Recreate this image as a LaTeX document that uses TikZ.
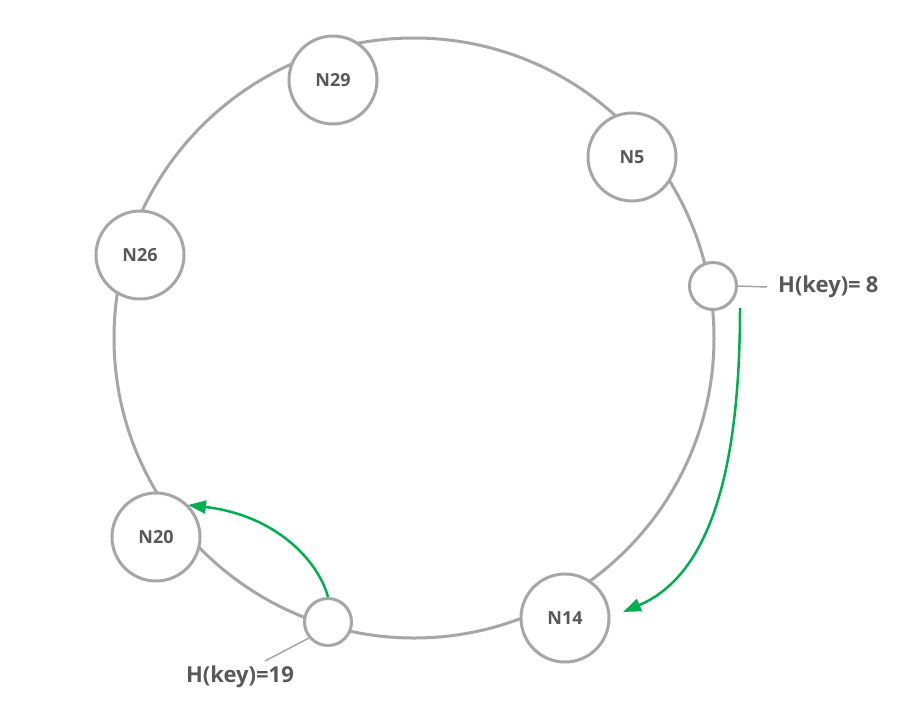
\documentclass[tikz,border=0pt]{standalone}
\usepackage{fontspec}
\setmainfont{Open Sans}[BoldFont={Open Sans Bold}]
\usetikzlibrary{arrows.meta}
\definecolor{ringgray}{HTML}{A6A6A6}
\definecolor{txtgray}{HTML}{595959}
\definecolor{arrgreen}{HTML}{00B050}
\begin{document}
\begin{tikzpicture}[x=1pt,y=-1pt,
  ringline/.style={draw=ringgray,line width=3pt},
  bignode/.style={circle,draw=ringgray,line width=3pt,fill=white,minimum size=88pt,inner sep=0pt,
    font=\fontsize{18}{20}\selectfont\bfseries,text=txtgray},
  smallnode/.style={circle,draw=ringgray,line width=3pt,fill=white,minimum size=47pt,inner sep=0pt},
  keylabel/.style={font=\fontsize{22}{24}\selectfont\bfseries,text=txtgray,inner sep=0pt},
  leader/.style={draw=ringgray,line width=1.5pt},
  greenarrow/.style={draw=arrgreen,line width=2.5pt,-{Triangle[length=18pt,width=13pt]}}
]
\useasboundingbox (0,0) rectangle (914,716);
\fill[white] (0,0) rectangle (914,716);
\coordinate (ringc) at (414,338);
\draw[ringline] (ringc) circle[radius=300];
\node[bignode] (n29) at (333,80) {N29};
\node[bignode] (n5) at (632,157) {N5};
\node[bignode] (n26) at (140,255) {N26};
\node[bignode] (n20) at (156,537) {N20};
\node[bignode] (n14) at (565,618) {N14};
\node[smallnode] (k8) at (713,286) {};
\node[smallnode] (k19) at (328,622) {};
\node[keylabel,anchor=west] (l8) at (778,287) {H(key)=\hspace{5pt}8};
\node[keylabel] (l19) at (240,677) {H(key)=19};
\coordinate (l8end) at (767,287);
\coordinate (l19end) at (265,661);
\draw[leader] (k8.east) -- (l8end);
\draw[leader] (k19.-140) -- (l19end);
\draw[greenarrow] (740,308) .. controls (740,470) and (710,575) .. (623,612);
\draw[greenarrow] (k19.north) .. controls (318,560) and (275,515) .. (188,505);
\end{tikzpicture}
\end{document}
